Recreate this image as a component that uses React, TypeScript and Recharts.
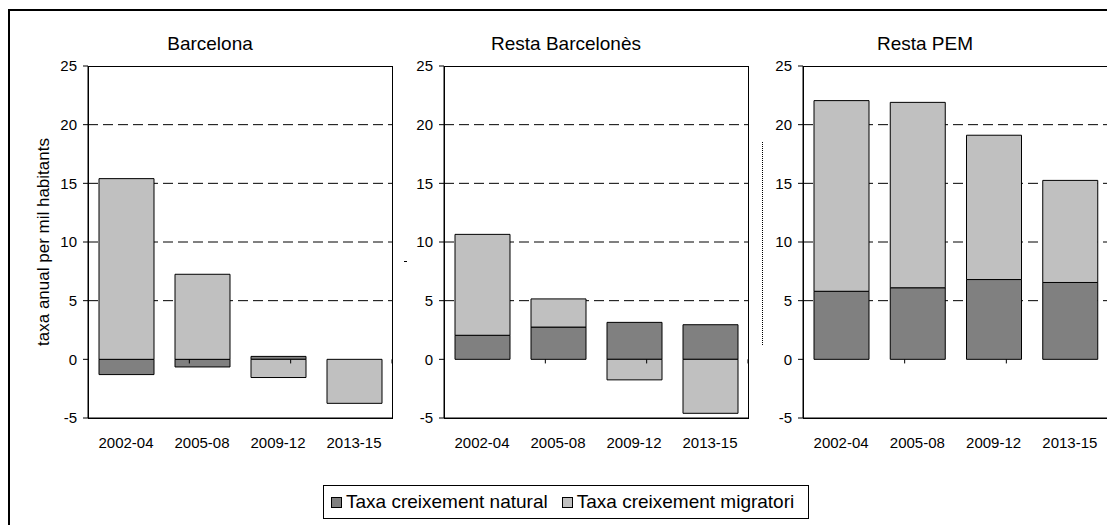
import { BarChart, Bar, XAxis, YAxis, CartesianGrid, ReferenceLine, Label } from 'recharts'

const categories = ['2002-04', '2005-08', '2009-12', '2013-15']
const seriesNames = ['Taxa creixement natural', 'Taxa creixement migratori']
const yTicks = [-5, 0, 5, 10, 15, 20, 25]
const gridValues = [5, 10, 15, 20]

const barcelonaNatural = [-1.3, -0.65, 0.25, 0]
const barcelonaMigratori = [15.4, 7.25, -1.55, -3.75]

const restaBarcelonesNatural = [2.05, 2.75, 3.15, 2.95]
const restaBarcelonesMigratori = [8.6, 2.4, -1.75, -4.6]

const restaPemNatural = [5.8, 6.1, 6.8, 6.55]
const restaPemMigratori = [16.25, 15.8, 12.3, 8.7]

const FONT = '"Liberation Sans", Arial, sans-serif'
const NATURAL = '#808080'
const MIGRATORI = '#c0c0c0'
const Y_MIN = -5
const Y_MAX = 25

const PLOT_TOP = 58 // inside the root container
const PLOT_HEIGHT = 352

const build = (natural: number[], migratori: number[]) =>
  categories.map((c, i) => ({ name: c, natural: natural[i], migratori: migratori[i] }))

interface PanelProps {
  title: string
  titleX: number
  data: Array<{ name: string; natural: number; migratori: number }>
  left: number
  marginLeft: number
  plotWidth: number
  yLabel?: string
}

function Panel({ title, titleX, data, left, marginLeft, plotWidth, yLabel }: PanelProps) {
  const n = categories.length
  const bounds = categories.slice(1).map((_, i) => i + 1)
  const plotLeft = left + marginLeft + 50
  return (
    <>
      <div
        style={{
          position: 'absolute',
          left: titleX - 8 - 120,
          top: 26,
          width: 240,
          textAlign: 'center',
          fontSize: 19,
          lineHeight: '19px',
          fontFamily: FONT,
          color: '#000'
        }}
      >
        {title}
      </div>
      <div style={{ position: 'absolute', left, top: PLOT_TOP - 36 }}>
        <BarChart
          width={marginLeft + 50 + plotWidth + 8}
          height={36 + PLOT_HEIGHT + 40}
          data={data}
          stackOffset="sign"
          barSize={55}
          margin={{ top: 36, right: 8, left: marginLeft, bottom: 0 }}
        >
          <CartesianGrid vertical={false} horizontalValues={gridValues} stroke="#000" strokeDasharray="10 5" />
          <XAxis
            dataKey="name"
            height={40}
            tickLine={false}
            axisLine={{ stroke: '#000' }}
            tickSize={0}
            tickMargin={19}
            tick={{ fill: '#000', fontSize: 15, fontFamily: FONT }}
          />
          <XAxis xAxisId="b" type="number" domain={[0, n]} hide />
          <YAxis
            width={50}
            domain={[Y_MIN, Y_MAX]}
            ticks={yTicks}
            interval={0}
            tickSize={5}
            tickMargin={6}
            axisLine={{ stroke: '#000' }}
            tickLine={{ stroke: '#000' }}
            tick={{ fill: '#000', fontSize: 15, fontFamily: FONT }}
          >
            {yLabel && (
              <Label
                value={yLabel}
                angle={-90}
                position="insideLeft"
                offset={5}
                style={{ textAnchor: 'middle', fontSize: 17, fontFamily: FONT, fill: '#000' }}
              />
            )}
          </YAxis>
          <Bar dataKey="natural" name={seriesNames[0]} stackId="a" fill={NATURAL} stroke="#000" isAnimationActive={false} />
          <Bar dataKey="migratori" name={seriesNames[1]} stackId="a" fill={MIGRATORI} stroke="#000" isAnimationActive={false} />
          <ReferenceLine xAxisId="b" segment={[{ x: 0, y: 0 }, { x: n, y: 0 }]} stroke="#000" />
          {bounds.map((b) => (
            <ReferenceLine
              key={b}
              xAxisId="b"
              segment={[{ x: b, y: 0 }, { x: b, y: -0.35 }]}
              stroke="#000"
            />
          ))}
        </BarChart>
      </div>
      {/* plot frame */}
      <div
        style={{
          position: 'absolute',
          left: plotLeft,
          top: PLOT_TOP,
          width: plotWidth + 1,
          height: PLOT_HEIGHT + 1,
          border: '1px solid #000',
          boxSizing: 'border-box',
          pointerEvents: 'none'
        }}
      />
    </>
  )
}

export default function App() {
  return (
    <div style={{ position: 'relative', width: 1107, height: 517, fontFamily: FONT, overflow: 'hidden' }}>
      <div
        style={{
          position: 'absolute',
          left: 0,
          top: 1,
          width: 1107,
          height: 516,
          borderTop: '2px solid #000',
          borderLeft: '2px solid #000',
          boxSizing: 'border-box'
        }}
      />
      <Panel
        title="Barcelona"
        titleX={210}
        data={build(barcelonaNatural, barcelonaMigratori)}
        left={0}
        marginLeft={30}
        plotWidth={304}
        yLabel="taxa anual per mil habitants"
      />
      <Panel
        title="Resta Barcelonès"
        titleX={566}
        data={build(restaBarcelonesNatural, restaBarcelonesMigratori)}
        left={386}
        marginLeft={0}
        plotWidth={304}
      />
      <Panel
        title="Resta PEM"
        titleX={925}
        data={build(restaPemNatural, restaPemMigratori)}
        left={745}
        marginLeft={0}
        plotWidth={305}
      />
      {/* leftover marks of hidden axis titles */}
      <div style={{ position: 'absolute', left: 396, top: 253, width: 3, height: 1, background: '#000' }} />
      <div style={{ position: 'absolute', left: 754, top: 134, height: 203, borderLeft: '1px dotted #000' }} />
      <div
        style={{
          position: 'absolute',
          left: 315,
          top: 477,
          width: 486,
          height: 34,
          border: '1px solid #000',
          boxSizing: 'border-box',
          display: 'flex',
          alignItems: 'center',
          paddingLeft: 7,
          fontSize: 19,
          color: '#000'
        }}
      >
        {seriesNames.map((s, i) => (
          <div key={s} style={{ display: 'flex', alignItems: 'center', marginRight: i === 0 ? 14 : 0 }}>
            <span
              style={{
                display: 'inline-block',
                width: 9,
                height: 9,
                background: i === 0 ? NATURAL : MIGRATORI,
                border: '1px solid #000',
                marginRight: 4
              }}
            />
            <span>{s}</span>
          </div>
        ))}
      </div>
    </div>
  )
}
